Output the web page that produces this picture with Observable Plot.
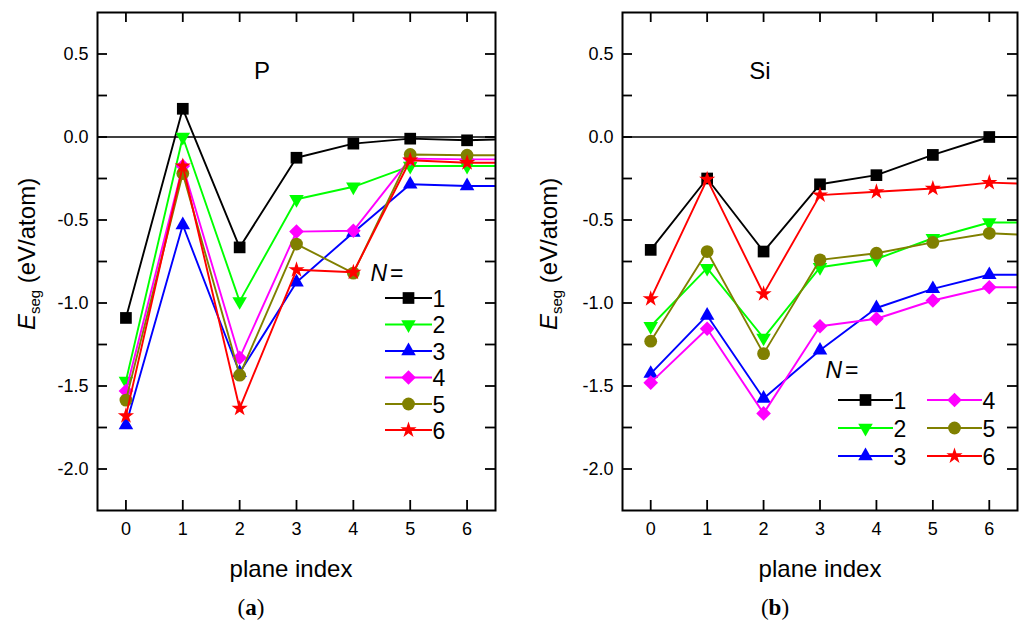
<!DOCTYPE html>
<html><head><meta charset="utf-8">
<script src="https://cdn.jsdelivr.net/npm/d3@7"></script>
<script src="https://cdn.jsdelivr.net/npm/@observablehq/plot@0.6"></script>
<style>
body{margin:0;background:#fff;}
#wrap{position:relative;width:1022px;height:625px;font-family:"Liberation Sans",Arial,sans-serif;background:#fff;}
#wrap svg{position:absolute;top:0;overflow:visible;}
</style></head><body><div id="wrap"></div>
<script>
// ---- data ----
const planeIndex = [0, 1, 2, 3, 4, 5, 6, 7]; // 7 only carries the line past the right frame edge
const seriesN = ["1", "2", "3", "4", "5", "6"];
const seriesColors = ["#000000", "#00ff00", "#0000ff", "#ff00ff", "#808000", "#ff0000"];

// Panel (a): P
const P_N1 = [-1.09, 0.17, -0.665, -0.125, -0.04, -0.01, -0.02, -0.01];
const P_N2 = [-1.47, 0.0, -0.99, -0.375, -0.30, -0.175, -0.175, -0.175];
const P_N3 = [-1.735, -0.53, -1.42, -0.875, -0.575, -0.285, -0.295, -0.295];
const P_N4 = [-1.53, -0.175, -1.33, -0.57, -0.565, -0.13, -0.135, -0.135];
const P_N5 = [-1.585, -0.22, -1.435, -0.645, -0.82, -0.105, -0.11, -0.11];
const P_N6 = [-1.68, -0.175, -1.635, -0.80, -0.815, -0.14, -0.155, -0.155];

// Panel (b): Si
const Si_N1 = [-0.68, -0.25, -0.69, -0.285, -0.23, -0.108, 0.0, 0.0];
const Si_N2 = [-1.14, -0.79, -1.21, -0.785, -0.735, -0.61, -0.515, -0.515];
const Si_N3 = [-1.425, -1.075, -1.575, -1.285, -1.03, -0.915, -0.83, -0.83];
const Si_N4 = [-1.48, -1.155, -1.665, -1.14, -1.095, -0.985, -0.905, -0.905];
const Si_N5 = [-1.23, -0.69, -1.305, -0.74, -0.70, -0.635, -0.58, -0.595];
const Si_N6 = [-0.975, -0.255, -0.945, -0.35, -0.33, -0.31, -0.275, -0.285];

const xTicks = [0, 1, 2, 3, 4, 5, 6];
const yTicks = [-2.0, -1.75, -1.5, -1.25, -1.0, -0.75, -0.5, -0.25, 0.0, 0.25, 0.5];
const yTickLabels = [-2.0, -1.5, -1.0, -0.5, 0.0, 0.5];
const xLabel = "plane index";
const yLabelMain = "E", yLabelSub = "seg", yLabelUnit = " (eV/atom)";

// ---- symbols ----
const sqrt3 = Math.sqrt(3);
const symbolTriangleDown = {
  draw(context, size) {
    const y = -Math.sqrt(size / (sqrt3 * 3));
    context.moveTo(0, -y * 2);
    context.lineTo(-sqrt3 * y, y);
    context.lineTo(sqrt3 * y, y);
    context.closePath();
  }
};
const seriesSymbols = [d3.symbolSquare, symbolTriangleDown, d3.symbolTriangle, d3.symbolDiamond2, d3.symbolCircle, d3.symbolStar];
const seriesR = [6.6, 5.4, 5.4, 6.6, 6.4, 5.1];

const W = 511, H = 625, MT = 12, MB = 115;

function makePanel(seriesVals, cfg) {
  const {ml, mr, title, titleX, letter, letterX, xLabelX, yTitleX, legend} = cfg;
  const fw = W - ml - mr, fh = H - MT - MB;
  const rows = [];
  seriesVals.forEach((vals, i) => vals.forEach((v, j) => rows.push({N: seriesN[i], idx: i, x: planeIndex[j], y: v})));
  const marks = [
    Plot.ruleY([0], {stroke: "#000", strokeWidth: 1.5})
  ];
  seriesN.forEach((n, i) => {
    const d = rows.filter(r => r.N === n);
    marks.push(Plot.line(d, {x: "x", y: "y", stroke: seriesColors[i], strokeWidth: 1.9, clip: true}));
    marks.push(Plot.dot(d.filter(r => r.x <= 6), {x: "x", y: "y", symbol: seriesSymbols[i], r: seriesR[i], fill: seriesColors[i], stroke: "none"}));
  });
  marks.push(
    Plot.tickY(yTicks, {y: d => d, insetRight: fw - 10, strokeWidth: 1.8}),
    Plot.tickY(yTicks, {y: d => d, insetLeft: fw - 10, strokeWidth: 1.8}),
    Plot.tickX(xTicks, {x: d => d, insetTop: fh - 10, strokeWidth: 1.8}),
    Plot.tickX(xTicks, {x: d => d, insetBottom: fh - 10, strokeWidth: 1.8}),
    Plot.axisY({ticks: yTickLabels, tickSize: 0, tickPadding: 9, tickFormat: d => d.toFixed(1), label: null, fontSize: 18}),
    Plot.axisX({ticks: xTicks, tickSize: 0, tickPadding: 12, tickFormat: d => String(d), label: null, fontSize: 18}),
    Plot.frame({stroke: "#000", strokeWidth: 2})
  );
  const chart = Plot.plot({
    width: W, height: H,
    marginLeft: ml, marginRight: mr, marginTop: MT, marginBottom: MB,
    x: {domain: [-0.5, 6.5]},
    y: {domain: [-2.25, 0.75]},
    style: {fontFamily: '"Liberation Sans", Arial, sans-serif', fontSize: "18px", color: "#000", background: "transparent"},
    marks
  });
  const svg = d3.select(chart);
  const ff = '"Liberation Sans", Arial, sans-serif';
  // panel title
  svg.append("text").attr("x", titleX).attr("y", 79).attr("text-anchor", "middle")
    .attr("font-family", ff).attr("font-size", 24).attr("fill", "#000").text(title);
  // x label
  svg.append("text").attr("x", xLabelX).attr("y", 577).attr("text-anchor", "middle")
    .attr("font-family", ff).attr("font-size", 24).attr("fill", "#000").text(xLabel);
  // panel letter
  const lt = svg.append("text").attr("x", letterX).attr("y", 615).attr("text-anchor", "middle")
    .attr("font-family", '"Liberation Serif", "Times New Roman", serif').attr("font-size", 23).attr("fill", "#000");
  lt.append("tspan").text("(");
  lt.append("tspan").attr("font-weight", "bold").text(letter);
  lt.append("tspan").text(")");
  // y title
  const yt = svg.append("text").attr("transform", `translate(${yTitleX},254) rotate(-90)`).attr("text-anchor", "middle")
    .attr("font-family", ff).attr("font-size", 24).attr("fill", "#000");
  yt.append("tspan").attr("font-style", "italic").text(yLabelMain);
  yt.append("tspan").attr("font-size", 15).attr("dy", 5).text(yLabelSub);
  yt.append("tspan").attr("dy", -5).text(yLabelUnit);
  // legend
  const lg = svg.append("g");
  const nt = lg.append("text").attr("x", legend.nx).attr("y", legend.ny).attr("font-family", ff).attr("font-size", 23).attr("fill", "#000");
  nt.append("tspan").attr("font-style", "italic").text("N");
  nt.append("tspan").attr("dx", 3).text("=");
  legend.items.forEach((it) => {
    const i = it.i;
    lg.append("line").attr("x1", it.x1).attr("x2", it.x2).attr("y1", it.y).attr("y2", it.y)
      .attr("stroke", seriesColors[i]).attr("stroke-width", 1.9);
    lg.append("path").attr("transform", `translate(${(it.x1 + it.x2) / 2},${it.y})`)
      .attr("d", d3.symbol(seriesSymbols[i], seriesR[i] * seriesR[i] * Math.PI)()).attr("fill", seriesColors[i]);
    lg.append("text").attr("x", it.x2 + 7).attr("y", it.y + 8.5).attr("font-family", ff).attr("font-size", 23)
      .attr("fill", "#000").text(seriesN[i]);
  });
  return chart;
}

const leftLegendYs = [298, 324.5, 351, 377.5, 404, 430];
const left = makePanel([P_N1, P_N2, P_N3, P_N4, P_N5, P_N6], {
  ml: 97, mr: 16, title: "P", titleX: 262, letter: "a", letterX: 251, xLabelX: 291, yTitleX: 35,
  legend: {nx: 387, ny: 281, items: seriesN.map((n, i) => ({i, x1: 385, x2: 432, y: leftLegendYs[i]}))}
});
const rightRows = [400, 428, 456];
const right = makePanel([Si_N1, Si_N2, Si_N3, Si_N4, Si_N5, Si_N6], {
  ml: 111, mr: 5, title: "Si", titleX: 249, letter: "b", letterX: 264, xLabelX: 309, yTitleX: 46,
  legend: {nx: 331, ny: 378, items: seriesN.map((n, i) => ({i, x1: i < 3 ? 327 : 416, x2: i < 3 ? 382 : 471, y: rightRows[i % 3]}))}
});
left.style.left = "0px";
right.style.left = "511px";
document.getElementById("wrap").append(left, right);
</script>
</body></html>
